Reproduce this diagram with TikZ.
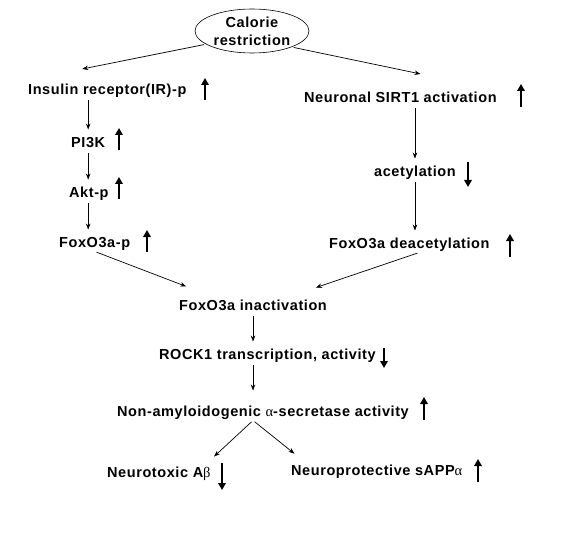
\documentclass[tikz,border=0pt]{standalone}
\usepackage{amsmath}
\usepackage{fontspec}
\setmainfont{Liberation Sans}[LetterSpace=4]
\newfontfamily\grk{Liberation Serif}
\usepackage{tikz}
\usetikzlibrary{shapes.geometric}
\usetikzlibrary{arrows.meta}
% thick up / down marks: x, top, bottom
\newcommand{\upar}[3]{\draw[trend] (#1,#3) -- (#1,#2);}
\newcommand{\dnar}[3]{\draw[trend] (#1,#2) -- (#1,#3);}
\tikzset{
  trend/.style={line width=2.3pt,-{Triangle[length=7pt,width=7.5pt]}},
  link/.style={line width=0.7pt,-{Stealth[length=6pt,width=4.5pt]},shorten >=3pt,shorten <=2pt},
  txt/.style={font=\fontsize{14.5}{18}\selectfont\bfseries,inner sep=4pt,text height=10.5pt,text depth=0pt,anchor=west}
}

\begin{document}
\begin{tikzpicture}[x=1pt,y=-1pt]
            \useasboundingbox (0,0) rectangle (575,540);

            \node[draw,ellipse,line width=0.6pt,minimum width=114pt,minimum height=44pt,inner sep=0pt,
                  font=\fontsize{14.5}{18}\selectfont\bfseries,align=center] (cr) at (252,31) {Calorie\\restriction};

            \node[txt] (ir) at (24,89) {Insulin receptor(IR)-p};
            \node[txt] (pi) at (67,142) {PI3K};
            \node[txt] (akt) at (65,192) {Akt-p};
            \node[txt] (fp) at (55,242) {FoxO3a-p};

            \node[txt] (sirt) at (300,97) {Neuronal SIRT1 activation};
            \node[txt] (ac) at (370,171) {acetylation};
            \node[txt] (fd) at (325,243) {FoxO3a deacetylation};

            \node[txt] (fi) at (175,305) {FoxO3a inactivation};
            \node[txt] (rock) at (155,354) {ROCK1 transcription, activity};
            \node[txt] (na) at (113,411) {Non-amyloidogenic {\grk\mdseries α}-secretase activity};
            \node[txt] (ab) at (103,472) {Neurotoxic A{\grk\mdseries β}};
            \node[txt] (sapp) at (287,470) {Neuroprotective sAPP{\grk\mdseries α}};

            % connectors
            \draw[link] (cr.196) -- ([shift={(-28pt,10pt)}]ir.north);
            \draw[link] (cr.-22) -- ([shift={(23pt,13pt)}]sirt.north);
            \draw[link] (pi.north |- ir.south) -- (pi.north);
            \draw[link] (pi.south) -- (pi.south |- akt.north);
            \draw[link] (pi.south |- akt.south) -- (pi.south |- fp.north);
            \draw[link] (ac.north |- sirt.south) -- (ac.north);
            \draw[link] (ac.south) -- (ac.south |- fd.north);
            \draw[link] (fp.south) -- ([shift={(14pt,8pt)}]fi.north west);
            \draw[link] ([xshift=10pt]fd.south) -- ([shift={(-18pt,7pt)}]fi.north east);
            \draw[link] (fi.south) -- (fi.south |- rock.north);
            \draw[link,shorten >=11pt] (fi.south |- rock.south) -- (fi.south |- na.north);
            \draw[link] (fi.south |- na.south) -- ([shift={(53pt,4pt)}]ab.north);
            \draw[link] (fi.south |- na.south) -- ([shift={(-80pt,5pt)}]sapp.north);

            % up / down marks
            \upar{205}{78}{100}
            \upar{521}{84}{107}
            \upar{119}{128}{150}
            \upar{119}{177}{199}
            \upar{147}{230}{252}
            \dnar{468}{162}{187}
            \upar{510}{234}{257}
            \dnar{384}{348}{368}
            \upar{424}{397}{420}
            \dnar{222}{463}{490}
            \upar{478}{459}{482}
        \end{tikzpicture}
\end{document}
